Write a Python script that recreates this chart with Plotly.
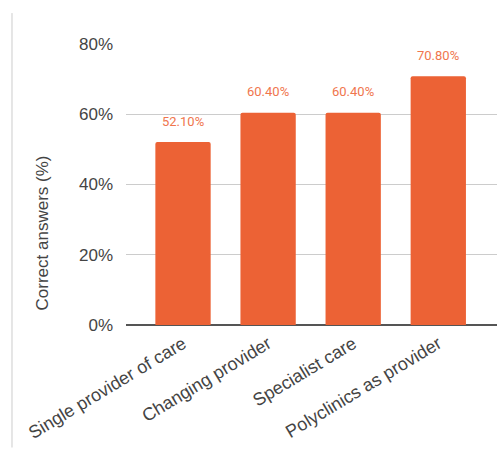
import plotly.graph_objects as go

categories = ["Single provider of care", "Changing provider", "Specialist care", "Polyclinics as provider"]
values = [52.1, 60.4, 60.4, 70.8]
value_labels = ["52.10%", "60.40%", "60.40%", "70.80%"]
y_ticks = [0, 20, 40, 60, 80]
y_tick_labels = ["0%", "20%", "40%", "60%", "80%"]
y_title = "Correct answers (%)"

bar_color = "#ec6235"
label_color = "#f0764d"
text_color = "#444444"

fig = go.Figure(
    go.Bar(
        x=list(range(len(categories))),
        y=values,
        width=0.65,
        marker=dict(color=bar_color, line=dict(width=0), cornerradius=2),
        hoverinfo="skip",
    )
)

for i, (v, lab) in enumerate(zip(values, value_labels)):
    fig.add_annotation(
        x=i, y=v, text=lab, showarrow=False, yshift=21,
        font=dict(family="Roboto, Arial, sans-serif", size=13, color=label_color),
    )

# vertical axis title, centred on the whole chart area
fig.add_annotation(
    xref="paper", yref="paper", x=-0.224, y=0.329,
    xanchor="center", yanchor="middle",
    text=y_title, textangle=-90, showarrow=False,
    font=dict(size=17, color=text_color),
)

# light frame line on the left edge
fig.add_shape(
    type="line", xref="paper", yref="paper",
    x0=-0.3073, x1=-0.3073, y0=-0.436, y1=1.11,
    line=dict(color="#cccccc", width=1),
)

fig.update_layout(
    width=504, height=450,
    margin=dict(l=126, r=7, t=44, b=123),
    paper_bgcolor="white", plot_bgcolor="white",
    showlegend=False,
    font=dict(family="Arial, Liberation Sans, sans-serif", color=text_color),
    bargap=0.35,
)

fig.update_xaxes(
    range=[-0.67, 3.69],
    tickmode="array",
    tickvals=list(range(len(categories))),
    ticktext=categories,
    tickangle=-31,
    tickfont=dict(size=18, color=text_color),
    showgrid=False, zeroline=False, showline=False, ticks="",
    ticklabelstandoff=4,
)

fig.update_yaxes(
    range=[0, 80],
    tickmode="array",
    tickvals=y_ticks,
    ticktext=y_tick_labels,
    tickfont=dict(size=17, color=text_color),
    showgrid=True, gridcolor="#cccccc", gridwidth=1,
    zeroline=True, zerolinecolor="#555555", zerolinewidth=1.5,
    ticks="", ticklabelstandoff=12,
)

fig.write_html("out.html")
